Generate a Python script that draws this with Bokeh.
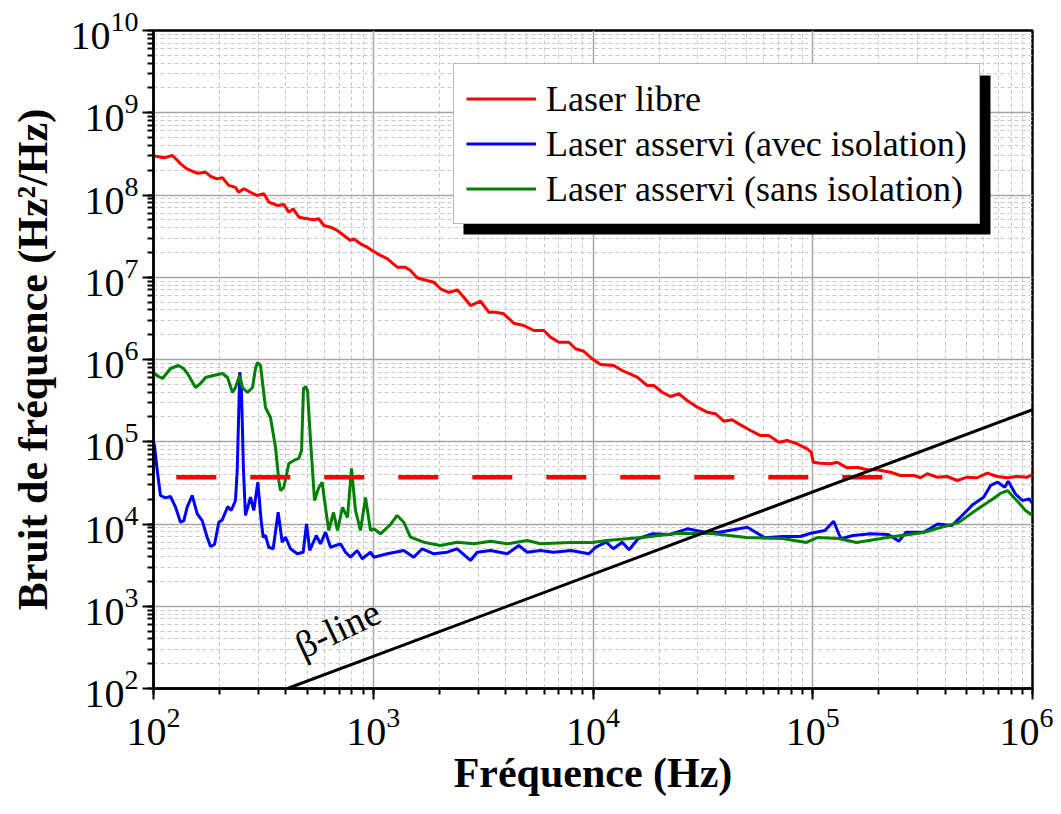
from bokeh.plotting import figure
from bokeh.models import Legend, LegendItem, BoxAnnotation, Label, LogTicker, Range1d
from bokeh.embed import file_html
from bokeh.resources import INLINE

# ---------------- data ----------------
red_f = [100, 111, 122, 133, 142, 158, 173, 182, 195, 206,
         220, 236, 244, 258, 276, 296, 318, 335, 366, 392,
         413, 432, 459, 501, 536, 565, 596, 651, 686, 735,
         788, 816, 875, 939, 989, 1079, 1157, 1285, 1402, 1477,
         1585, 1698, 1886, 2023, 2207, 2410, 2582, 2770, 3076, 3356,
         3599, 3926, 4360, 4843, 5379, 5973, 6405, 6990, 7762, 8326,
         9080, 9917, 10820, 12440, 13580, 15890, 17650, 18910, 20650, 22530,
         24570, 26840, 29810, 33090, 36100, 39380, 42990, 46070, 52100, 57830,
         63100, 70060, 76500, 84960, 94340, 98380, 100500, 108500, 120400, 129200,
         143500, 159300, 176900, 196600, 225900, 250800, 288400, 309300, 331700, 368400,
         409100, 454300, 504500, 560200, 622100, 690800, 767100, 851800, 945800, 1000000]
red_S = [3.0e8, 2.83e8, 3.02e8, 2.39e8, 2.08e8, 1.84e8, 1.89e8, 1.68e8, 1.57e8, 1.62e8,
         1.31e8, 1.24e8, 1.08e8, 1.19e8, 1.08e8, 9.86e7, 1.035e8, 8.18e7, 7.45e7, 7.66e7,
         6.18e7, 6.79e7, 5.37e7, 5.14e7, 4.99e7, 5.14e7, 4.26e7, 3.99e7, 3.70e7, 3.22e7,
         2.80e7, 2.93e7, 2.55e7, 2.32e7, 2.11e7, 1.84e7, 1.68e7, 1.325e7, 1.325e7, 1.21e7,
         9.85e6, 9.31e6, 8.71e6, 7.24e6, 6.53e6, 7.03e6, 5.72e6, 4.53e6, 5.11e6, 3.76e6,
         3.76e6, 3.59e6, 2.76e6, 2.59e6, 2.25e6, 2.25e6, 1.87e6, 1.62e6, 1.62e6, 1.35e6,
         1.26e6, 1.02e6, 8.69e5, 8.45e5, 7.35e5, 6.09e5, 4.83e5, 4.83e5, 4.00e5, 3.55e5,
         3.83e5, 3.17e5, 2.63e5, 2.29e5, 2.19e5, 1.78e5, 1.85e5, 1.65e5, 1.37e5, 1.19e5,
         1.19e5, 9.87e4, 1.036e5, 9.44e4, 8.21e4, 7.46e4, 5.64e4, 5.48e4, 5.40e4, 5.64e4,
         4.82e4, 4.90e4, 4.56e4, 4.56e4, 4.26e4, 3.89e4, 3.89e4, 3.65e4, 4.08e4, 3.71e4,
         3.78e4, 3.38e4, 3.71e4, 3.65e4, 4.15e4, 3.78e4, 3.65e4, 3.78e4, 3.71e4, 4.00e4]

blue_f = [100, 101, 104, 107.6, 113.4, 119.5, 126, 132.7, 137.4, 142.3,
          150, 158.1, 166.6, 175.5, 181.7, 189.5, 198.3, 205.4, 217.8, 225.7,
          236.1, 240.4, 247, 251.4, 256.7, 262.1, 276.3, 286, 298.4, 309,
          315.6, 323.3, 334.6, 350.4, 369.3, 385.1, 398.7, 420.2, 450.7, 480,
          496.9, 514.3, 550.1, 575.3, 606.3, 639.2, 709.6, 747.7, 788.1, 845.3,
          890.9, 971.6, 1006, 1158, 1377, 1529, 1671, 1886, 2171, 2410,
          2770, 2972, 3417, 4071, 4596, 5019, 5769, 6603, 7941, 9560,
          10290, 11490, 12380, 13570, 14610, 16030, 18570, 22370, 26890, 32340,
          37490, 50390, 60640, 72920, 87700, 97980, 113600, 124500, 134200, 152600,
          183500, 220900, 246700, 265700, 319500, 370500, 429500, 462500, 536300, 599100,
          644800, 694600, 747100, 776000, 835300, 899500, 967900, 1000000]
blue_S = [1.0e5, 9.0e4, 4.47e4, 2.22e4, 2.08e4, 2.16e4, 1.60e4, 1.05e4, 1.10e4, 1.60e4,
          2.22e4, 1.33e4, 1.10e4, 6.91e3, 5.33e3, 5.63e3, 1.05e4, 1.12e4, 1.63e4, 1.46e4,
          1.93e4, 4.47e4, 7.0e5, 4.2e5, 4.47e4, 1.27e4, 2.12e4, 1.46e4, 3.22e4, 1.10e4,
          6.91e3, 7.25e3, 5.22e3, 5.0e3, 1.39e4, 6.01e3, 6.91e3, 5.0e3, 4.34e3, 4.54e3,
          1.0e4, 4.76e3, 7.25e3, 5.74e3, 7.95e3, 5.22e3, 5.74e3, 4.54e3, 3.95e3, 4.76e3,
          3.78e3, 4.54e3, 3.95e3, 4.34e3, 4.76e3, 3.95e3, 5.0e3, 4.34e3, 4.54e3, 5.0e3,
          3.60e3, 4.54e3, 4.76e3, 4.34e3, 5.48e3, 4.54e3, 4.76e3, 4.54e3, 4.76e3, 4.34e3,
          5.22e3, 6.01e3, 5.0e3, 6.01e3, 4.86e3, 6.61e3, 7.6e3, 7.45e3, 8.74e3, 7.95e3,
          7.95e3, 9.14e3, 6.80e3, 7.05e3, 7.05e3, 7.73e3, 8.34e3, 1.08e4, 6.61e3, 7.25e3,
          7.6e3, 7.45e3, 6.18e3, 7.95e3, 7.95e3, 1.0e4, 9.59e3, 1.16e4, 1.73e4, 2.12e4,
          2.94e4, 3.22e4, 2.80e4, 3.31e4, 2.33e4, 1.93e4, 2.02e4, 1.78e4]

green_f = [100, 101, 105.4, 109.9, 119.5, 130, 136.9, 142.8, 155.3, 163.6,
           172.5, 187.5, 206.1, 217.2, 228.8, 236.1, 246.2, 254.1, 267.8, 282.2,
           291.2, 297.4, 306.9, 323.3, 340.7, 359.2, 371.7, 378.4, 391.7, 412.9,
           435.1, 458.5, 471.6, 481.5, 491.7, 502.1, 518.2, 540.4, 565, 585.6,
           606.3, 627.6, 659.4, 687.6, 724.6, 763.5, 796.2, 830.2, 874.9, 922.1,
           971.6, 1006, 1079, 1198, 1285, 1377, 1477, 1698, 2023, 2410,
           2869, 3417, 4071, 5019, 5769, 7899, 9947, 11520, 16620, 23990,
           34620, 49950, 72830, 93650, 105100, 131000, 158200, 218800, 319200, 381400,
           460500, 550400, 664500, 714900, 769600, 863700, 929300, 1000000]
green_S = [6.5e5, 6.76e5, 6.22e5, 5.87e5, 7.77e5, 8.45e5, 7.77e5, 6.76e5, 4.57e5, 5.11e5,
           6.04e5, 6.39e5, 6.76e5, 6.04e5, 3.97e5, 4.57e5, 6.39e5, 4.57e5, 3.97e5, 4.57e5,
           7.77e5, 9.19e5, 8.45e5, 2.61e5, 1.97e5, 8.51e4, 3.38e4, 2.55e4, 2.78e4, 5.44e4,
           5.92e4, 6.26e4, 7.83e4, 4.44e5, 4.70e5, 4.20e5, 1.04e5, 1.93e4, 2.78e4, 3.20e4,
           1.59e4, 8.34e3, 1.38e4, 8.34e3, 1.59e4, 1.20e4, 4.73e4, 1.46e4, 8.34e3, 2.10e4,
           8.34e3, 8.74e3, 7.60e3, 9.86e3, 1.27e4, 1.05e4, 6.91e3, 6.01e3, 5.48e3, 6.01e3,
           5.74e3, 6.18e3, 5.74e3, 6.30e3, 5.74e3, 5.96e3, 5.96e3, 6.30e3, 6.85e3, 7.66e3,
           7.66e3, 6.85e3, 6.66e3, 5.96e3, 6.85e3, 6.66e3, 5.96e3, 6.85e3, 7.88e3, 9.07e3,
           1.04e4, 1.46e4, 2.04e4, 2.35e4, 2.55e4, 1.83e4, 1.46e4, 1.27e4]

thr_f = [127, 2.1e5]          # red dashed reference level
thr_S = [3.7e4, 3.7e4]
beta_f = [407, 1.0e6]         # beta-separation line
beta_S = [100, 2.45e5]

labels = ["Laser libre", "Laser asservi (avec isolation)", "Laser asservi (sans isolation)"]
x_title = "Fréquence (Hz)"
y_title = "Bruit de fréquence (Hz²/Hz)"

# ---------------- figure ----------------
SERIF = "Liberation Serif"
p = figure(x_axis_type="log", y_axis_type="log",
           x_range=Range1d(1e2, 1e6), y_range=Range1d(1e2, 1e10),
           width=1053, height=812,
           min_border_left=153, min_border_right=21, min_border_top=30, min_border_bottom=124,
           output_backend="svg", toolbar_location=None)
p.background_fill_color = "white"
p.border_fill_color = "white"
p.outline_line_color = "black"
p.outline_line_width = 2.5
p.outline_line_alpha = 1

for ax in (p.xaxis[0], p.yaxis[0]):
    ax.ticker = LogTicker(num_minor_ticks=10)
    ax.axis_line_width = 2.5
    ax.axis_line_color = "black"
    ax.major_tick_line_width = 2
    ax.minor_tick_line_width = 2
    ax.major_tick_out = 11
    ax.major_tick_in = 0
    ax.minor_tick_out = 6
    ax.minor_tick_in = 0
    ax.major_label_text_font = SERIF
    ax.major_label_text_font_size = "40px"
    ax.major_label_text_color = "black"
    ax.axis_label_text_font = SERIF
    ax.axis_label_text_font_style = "bold"
    ax.axis_label_text_font_size = "42px"
    ax.axis_label_text_color = "black"

p.xaxis.axis_label = x_title
p.yaxis.axis_label = y_title
p.xaxis.major_label_standoff = 8
p.yaxis.major_label_standoff = 4
p.xaxis.axis_label_standoff = 2
p.yaxis.axis_label_standoff = 12

for g in (p.xgrid[0], p.ygrid[0]):
    g.grid_line_color = "#a6a6a6"
    g.grid_line_width = 1.5
    g.minor_grid_line_color = "#c8c8c8"
    g.minor_grid_line_width = 1
    g.minor_grid_line_dash = "4 3"

# curves
r_red = p.line(red_f, red_S, line_color="#ff0000", line_width=3)
r_blue = p.line(blue_f, blue_S, line_color="#0000ff", line_width=3)
r_green = p.line(green_f, green_S, line_color="#008000", line_width=3)
p.line(thr_f, thr_S, line_color="#ff0000", line_width=4.5, line_dash="40 34")
p.line(beta_f, beta_S, line_color="black", line_width=3)

p.add_layout(Label(x=452, y=315, text="β-line", angle=0.44,
                   text_font=SERIF, text_font_size="38px", text_color="black",
                   text_baseline="alphabetic", text_align="left"))

# legend shadow
p.add_layout(BoxAnnotation(left=310, right=837, top=613, bottom=454,
                           left_units="screen", right_units="screen",
                           top_units="screen", bottom_units="screen",
                           fill_color="black", fill_alpha=1, line_color=None,
                           level="annotation"))

legend = Legend(items=[LegendItem(label=labels[0], renderers=[r_red]),
                       LegendItem(label=labels[1], renderers=[r_blue]),
                       LegendItem(label=labels[2], renderers=[r_green])],
                location=(300, 464))
legend.label_text_font = SERIF
legend.label_text_font_size = "36px"
legend.label_text_color = "black"
legend.glyph_width = 70
legend.glyph_height = 45
legend.label_height = 45
legend.spacing = 0
legend.padding = 12
legend.margin = 0
legend.label_standoff = 10
legend.border_line_color = "#707070"
legend.border_line_width = 1.5
legend.background_fill_color = "white"
legend.background_fill_alpha = 1
p.add_layout(legend)

open("out.html", "w").write(file_html(p, INLINE))
